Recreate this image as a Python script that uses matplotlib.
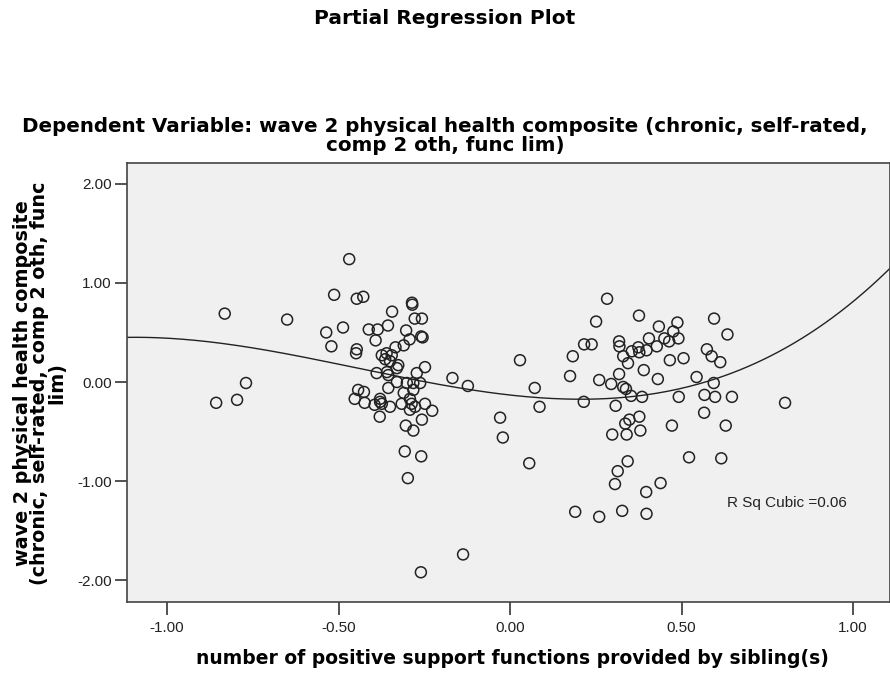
import numpy as np
import matplotlib
matplotlib.use("Agg")
import matplotlib.pyplot as plt

# ============================================================
# Data
# ============================================================

# left cluster (negative sibling support residuals)
x_left = [-0.857, -0.832, -0.796, -0.770, -0.650, -0.536, -0.521, -0.513, -0.487, -0.469,
          -0.453, -0.449, -0.447, -0.447, -0.443, -0.428, -0.426, -0.424, -0.412, -0.386,
          -0.392, -0.356, -0.344, -0.286, -0.285, -0.278, -0.257, -0.259, -0.255, -0.303,
          -0.293, -0.310, -0.334, -0.374, -0.360, -0.345, -0.364, -0.350, -0.326, -0.330,
          -0.389, -0.359, -0.355, -0.248, -0.272, -0.168, -0.330, -0.301, -0.282, -0.262,
          -0.355, -0.310, -0.282, -0.292, -0.287, -0.292, -0.277, -0.395, -0.379, -0.379,
          -0.374, -0.350, -0.316, -0.248, -0.227, -0.380, -0.257, -0.304, -0.282, -0.307,
          -0.259, -0.298, -0.260, -0.137, -0.123]
y_left = [-0.21, 0.69, -0.18, -0.01, 0.63, 0.50, 0.36, 0.88, 0.55, 1.24,
          -0.17, 0.29, 0.33, 0.84, -0.08, 0.86, -0.10, -0.21, 0.53, 0.53,
          0.42, 0.57, 0.71, 0.80, 0.78, 0.64, 0.64, 0.46, 0.45, 0.52,
          0.43, 0.37, 0.35, 0.27, 0.29, 0.27, 0.23, 0.21, 0.17, 0.14,
          0.09, 0.10, 0.07, 0.15, 0.09, 0.04, 0.00, -0.01, -0.01, -0.01,
          -0.06, -0.11, -0.08, -0.17, -0.22, -0.28, -0.25, -0.23, -0.17, -0.20,
          -0.22, -0.25, -0.22, -0.22, -0.29, -0.35, -0.38, -0.44, -0.49, -0.70,
          -0.75, -0.97, -1.92, -1.74, -0.04]

# middle points
x_mid = [-0.029, -0.021, 0.029, 0.056, 0.072, 0.086]
y_mid = [-0.36, -0.56, 0.22, -0.82, -0.06, -0.25]

# right cluster
x_right = [0.175, 0.183, 0.190, 0.215, 0.216, 0.238, 0.251, 0.260, 0.260, 0.283,
           0.295, 0.298, 0.306, 0.308, 0.314, 0.318, 0.319, 0.318, 0.327, 0.330,
           0.330, 0.338, 0.336, 0.340, 0.343, 0.344, 0.348, 0.353, 0.355, 0.374,
           0.376, 0.377, 0.377, 0.380, 0.385, 0.390, 0.397, 0.398, 0.398, 0.405,
           0.428, 0.431, 0.434, 0.439, 0.450, 0.464, 0.466, 0.472, 0.476, 0.488,
           0.491, 0.492, 0.506, 0.522, 0.544, 0.566, 0.567, 0.574, 0.588, 0.594,
           0.595, 0.598, 0.613, 0.616, 0.629, 0.634, 0.647, 0.802]
y_right = [0.06, 0.26, -1.31, -0.20, 0.38, 0.38, 0.61, 0.02, -1.36, 0.84,
           -0.02, -0.53, -1.03, -0.24, -0.90, 0.41, 0.36, 0.08, -1.30, 0.26,
           -0.05, -0.07, -0.42, -0.53, -0.80, 0.19, -0.38, -0.14, 0.31, 0.35,
           0.67, 0.30, -0.35, -0.49, -0.15, 0.12, -1.11, 0.32, -1.33, 0.44,
           0.36, 0.03, 0.56, -1.02, 0.44, 0.41, 0.22, -0.44, 0.51, 0.60,
           0.44, -0.15, 0.24, -0.76, 0.05, -0.31, -0.13, 0.33, 0.26, -0.01,
           0.64, -0.15, 0.20, -0.77, -0.44, 0.48, -0.15, -0.21]

X_TICKS = [-1.0, -0.5, 0.0, 0.5, 1.0]
Y_TICKS = [-2.0, -1.0, 0.0, 1.0, 2.0]

TITLE = "Partial Regression Plot"
SUBTITLE = ("Dependent Variable: wave 2 physical health composite (chronic, self-rated,\n"
            "comp 2 oth, func lim)")
X_LABEL = "number of positive support functions provided by sibling(s)"
Y_LABEL = "wave 2 physical health composite\n(chronic, self-rated, comp 2 oth, func\nlim)"
R2_TEXT = "R Sq Cubic =0.06"

BOLD_FONT = ["DejaVu Sans"]
PLAIN_FONT = ["Liberation Sans", "DejaVu Sans"]


def main():
    plt.rcParams["font.family"] = PLAIN_FONT

    x = np.array(x_left + x_mid + x_right)
    y = np.array(y_left + y_mid + y_right)

    W, H = 890, 677
    fig = plt.figure(figsize=(W / 100, H / 100), dpi=100)
    ax = fig.add_axes([127 / W, 1 - 602 / H, (890 - 127) / W, (602 - 163) / H])
    ax.set_facecolor("#f0f0f0")

    ax.scatter(x, y, s=62, facecolors="none", edgecolors="#222222", linewidths=1.1, zorder=3)

    # cubic fit line (SPSS "R Sq Cubic")
    coef = np.polyfit(x, y, 3)
    xs = np.linspace(-1.12, 1.12, 300)
    ax.plot(xs, np.polyval(coef, xs), color="#222222", linewidth=1.0, zorder=2)

    ax.set_xlim(-1.117, 1.108)
    ax.set_ylim(-2.22, 2.21)
    ax.set_xticks(X_TICKS)
    ax.set_xticklabels([f"{v:.2f}" for v in X_TICKS])
    ax.set_yticks(Y_TICKS)
    ax.set_yticklabels([f"{v:.2f}" for v in Y_TICKS])
    ax.tick_params(direction="out", length=9, width=1.2, colors="#333333",
                   labelsize=11, labelcolor="#222222")
    ax.tick_params(axis="x", pad=5)
    ax.tick_params(axis="y", pad=2)
    for s in ax.spines.values():
        s.set_color("#444444")
        s.set_linewidth(1.2)

    ax.text(0.632, -1.22, R2_TEXT, fontsize=11, color="#222222", ha="left", va="center")

    fig.text(0.5, 1 - 19 / H, TITLE, ha="center", va="center", fontsize=14.5,
             fontweight="bold", family=BOLD_FONT)
    fig.text(0.5, 1 - 136 / H, SUBTITLE, ha="center", va="center", fontsize=14.3,
             fontweight="bold", family=BOLD_FONT, linespacing=0.95)
    fig.text(512 / W, 1 - 658 / H, X_LABEL, ha="center", va="center", fontsize=13.5,
             fontweight="bold", family=BOLD_FONT)
    fig.text(40 / W, 1 - 383 / H, Y_LABEL, ha="center", va="center", rotation=90,
             fontsize=13.8, fontweight="bold", family=BOLD_FONT,
             multialignment="center", linespacing=0.88)

    fig.savefig("out.png", dpi=100, facecolor="white")


if __name__ == "__main__":
    main()
